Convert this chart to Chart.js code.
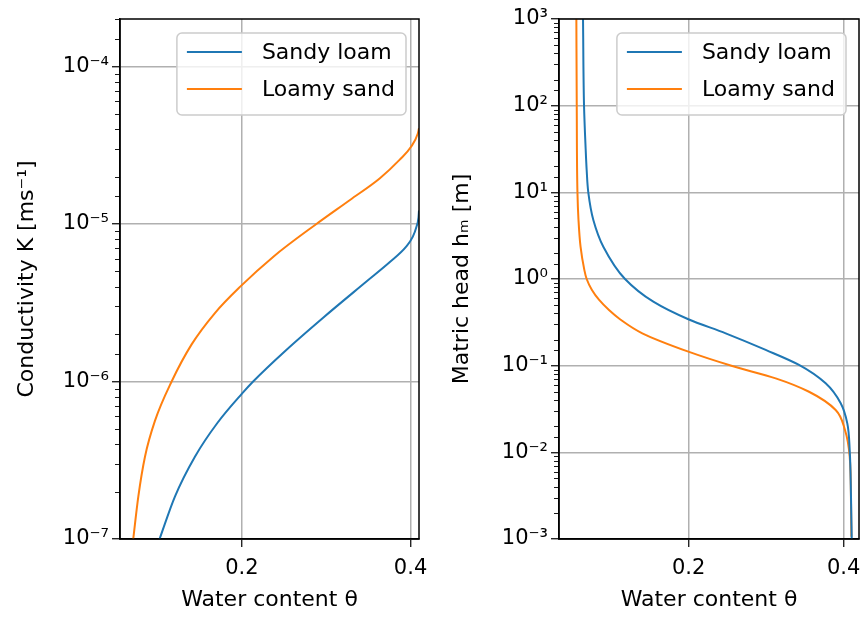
<!DOCTYPE html>
<html>
<head>
<meta charset="utf-8">
<script src="https://cdn.jsdelivr.net/npm/chart.js@4.4.0/dist/chart.umd.min.js"></script>
<style>
    html, body { margin: 0; padding: 0; background: #fff; }
    #wrap { position: relative; width: 863px; height: 617px; }
    #kChart { position: absolute; left: 0; top: 0; }
    #hChart { position: absolute; left: 430px; top: 0; }
</style>
</head>
<body>
<div id="wrap">
    <canvas id="kChart" width="430" height="617"></canvas>
    <canvas id="hChart" width="433" height="617"></canvas>
</div>
<script>
const seriesNames = ['Sandy loam', 'Loamy sand'];
const seriesColors = ['#1f77b4', '#ff7f0e'];
const thetaTicks = [0.2, 0.4];

// conductivity K [m/s] against water content
const sandyThetaK = [0.1025, 0.1207, 0.1444, 0.1710, 0.2004, 0.2134, 0.2527, 0.2964, 0.3477, 0.3751, 0.3948, 0.4027, 0.407, 0.4094, 0.41];
const sandyK = [1.0e-7, 1.86e-7, 3.33e-7, 5.45e-7, 8.4e-7, 1.0e-6, 1.585e-6, 2.54e-6, 4.31e-6, 5.71e-6, 7.18e-6, 8.3e-6, 9.59e-6, 1.096e-5, 1.216e-5];
const loamyThetaK = [0.0713, 0.0773, 0.0852, 0.0970, 0.1168, 0.1405, 0.1681, 0.1981, 0.2374, 0.2880, 0.3282, 0.3637, 0.3869, 0.4008, 0.4086, 0.41];
const loamyK = [1.0e-7, 1.86e-7, 3.33e-7, 5.62e-7, 1.0e-6, 1.72e-6, 2.72e-6, 4.0e-6, 6.2e-6, 9.96e-6, 1.42e-5, 1.95e-5, 2.55e-5, 3.1e-5, 3.75e-5, 4.05e-5];

// matric head h_m [m] against water content
const sandyThetaH = [0.4104, 0.4095, 0.4078, 0.4047, 0.3962, 0.3768, 0.3424, 0.2994, 0.2478, 0.1996, 0.1544, 0.1179, 0.0899, 0.0770, 0.0705, 0.0684, 0.0671, 0.0650, 0.0637];
const sandyH = [0.001, 0.003, 0.0106, 0.0216, 0.0368, 0.0625, 0.102, 0.152, 0.236, 0.343, 0.547, 1.0, 2.36, 4.8, 10, 18.1, 31.6, 100, 1000];
const loamyThetaH = [0.41, 0.4095, 0.4078, 0.4017, 0.3897, 0.3553, 0.3123, 0.2563, 0.1996, 0.1402, 0.1114, 0.0972, 0.0845, 0.0752, 0.0684, 0.0652, 0.0605, 0.0578, 0.0565, 0.0556, 0.0551];
const loamyH = [0.00106, 0.00258, 0.0089, 0.0181, 0.0308, 0.050, 0.0714, 0.099, 0.145, 0.236, 0.343, 0.438, 0.573, 0.747, 1.0, 1.3, 2.36, 4.9, 10, 100, 1000];

const FONT = '"DejaVu Sans", sans-serif';
const SUP = { '-': '⁻', '0': '⁰', '1': '¹', '2': '²', '3': '³', '4': '⁴', '5': '⁵', '6': '⁶', '7': '⁷', '8': '⁸', '9': '⁹' };

function isDecade(v) {
    const l = Math.log10(v);
    return Math.abs(l - Math.round(l)) < 1e-6;
}

function powLabel(v) {
    if (!isDecade(v)) return '';
    const e = String(Math.round(Math.log10(v)));
    return '10' + e.split('').map(c => SUP[c]).join('');
}

function toPoints(xs, ys) {
    return xs.map((x, i) => ({ x: x, y: ys[i] }));
}

// spines, short minor ticks and the legend box
const framePlugin = {
    id: 'frame',
    afterDraw(chart) {
        const a = chart.chartArea;
        const ctx = chart.ctx;
        ctx.save();

        const ys = chart.scales.y;
        ctx.strokeStyle = '#000';
        ctx.lineWidth = 0.9;
        ys.ticks.forEach(t => {
            if (isDecade(t.value)) return;
            const p = Math.round(ys.getPixelForValue(t.value)) + 0.5;
            ctx.beginPath();
            ctx.moveTo(a.left - 5, p);
            ctx.lineTo(a.left, p);
            ctx.stroke();
        });

        ctx.lineWidth = 1.5;
        ctx.strokeRect(a.left, a.top, a.right - a.left, a.bottom - a.top);

        ctx.font = '22px ' + FONT;
        const textW = Math.max(...chart.data.datasets.map(d => ctx.measureText(d.label).width));
        const w = 10 + 55 + 20 + textW + 11;
        const h = 82;
        const x = a.right - 13 - w;
        const y = a.top + 14;
        ctx.beginPath();
        ctx.roundRect(x, y, w, h, 5);
        ctx.fillStyle = 'rgba(255,255,255,0.8)';
        ctx.fill();
        ctx.strokeStyle = '#cccccc';
        ctx.lineWidth = 1.5;
        ctx.stroke();

        chart.data.datasets.forEach((d, i) => {
            const ly = y + 19 + i * 37;
            ctx.beginPath();
            ctx.moveTo(x + 10, ly);
            ctx.lineTo(x + 65, ly);
            ctx.strokeStyle = d.borderColor;
            ctx.lineWidth = 2;
            ctx.stroke();
            ctx.fillStyle = '#000';
            ctx.textBaseline = 'middle';
            ctx.fillText(d.label, x + 85, ly + 1);
        });
        ctx.restore();
    }
};

function makeChart(canvasId, sets, yMin, yMax, xMin, xMax, yTitle, yWidth, padRight, titlePad, indexAxis) {
    return new Chart(document.getElementById(canvasId), {
        type: 'line',
        data: {
            datasets: sets.map((s, i) => ({
                label: seriesNames[i],
                data: s,
                borderColor: seriesColors[i],
                backgroundColor: seriesColors[i],
                borderWidth: 2,
                pointRadius: 0,
                cubicInterpolationMode: 'monotone',
                fill: false
            }))
        },
        options: {
            indexAxis: indexAxis,
            responsive: false,
            animation: false,
            layout: { padding: { top: 19, right: padRight, left: 0, bottom: 0 } },
            plugins: { legend: { display: false }, tooltip: { enabled: false } },
            scales: {
                x: {
                    type: 'linear',
                    position: 'bottom',
                    min: xMin,
                    max: xMax,
                    afterBuildTicks: scale => { scale.ticks = thetaTicks.map(v => ({ value: v })); },
                    afterFit: scale => {
                        scale.height = 78;
                        scale.paddingLeft = 0;
                        scale.paddingRight = 0;
                    },
                    grid: { color: '#b0b0b0', lineWidth: 1.5, tickColor: '#000', tickLength: 8, tickWidth: 1.2 },
                    border: { display: true, color: '#000', width: 1.5 },
                    ticks: {
                        color: '#000',
                        font: { family: FONT, size: 21 },
                        padding: 9,
                        maxRotation: 0,
                        callback: v => v.toFixed(1)
                    },
                    title: {
                        display: true,
                        text: 'Water content θ',
                        color: '#000',
                        font: { family: FONT, size: 22 },
                        padding: { top: 2, bottom: 4 }
                    }
                },
                y: {
                    type: 'logarithmic',
                    position: 'left',
                    min: yMin,
                    max: yMax,
                    afterFit: scale => { scale.width = yWidth; },
                    grid: {
                        color: ctx => isDecade(ctx.tick.value) ? '#b0b0b0' : 'rgba(0,0,0,0)',
                        lineWidth: 1.5,
                        tickColor: ctx => isDecade(ctx.tick.value) ? '#000' : 'rgba(0,0,0,0)',
                        tickLength: 8,
                        tickWidth: 1.2
                    },
                    border: { display: true, color: '#000', width: 1.5 },
                    ticks: {
                        color: '#000',
                        autoSkip: false,
                        font: { family: FONT, size: 21 },
                        padding: 3,
                        callback: v => powLabel(v)
                    },
                    title: {
                        display: true,
                        text: yTitle,
                        color: '#000',
                        font: { family: FONT, size: 22 },
                        padding: { top: titlePad, bottom: 4 }
                    }
                }
            }
        },
        plugins: [framePlugin]
    });
}

document.addEventListener('DOMContentLoaded', function () {
    makeChart('kChart',
        [toPoints(sandyThetaK, sandyK), toPoints(loamyThetaK, loamyK)],
        1e-7, 2e-4, 0.0556, 0.41, 'Conductivity K [ms⁻¹]', 120, 11, 14, 'x');
    makeChart('hChart',
        [toPoints(sandyThetaH, sandyH), toPoints(loamyThetaH, loamyH)],
        1e-3, 1e3, 0.0327, 0.4198, 'Matric head hₘ [m]', 129, 4, 19, 'y');
});
</script>
</body>
</html>
